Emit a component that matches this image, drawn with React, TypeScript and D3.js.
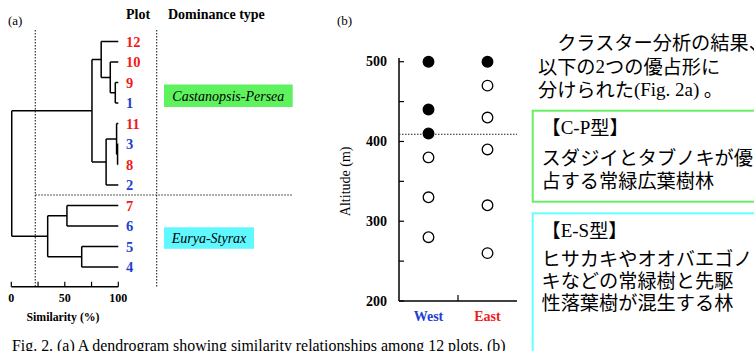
import React from "react";
import * as d3 from "d3";

// ---------- Data ----------
const leafOrder = ["12", "10", "9", "1", "11", "3", "8", "2", "7", "6", "5", "4"];
const westPlots = ["1", "2", "3", "4", "5", "6"];
// dendrogram: nested merges with similarity (%)
type Node = { name?: string; sim?: number; children?: Node[] };
const dendro: Node = {
  sim: 0.4,
  children: [
    {
      sim: 75.4,
      children: [
        { sim: 84, children: [{ name: "12" }, { sim: 92.5, children: [{ name: "10" }, { sim: 97.2, children: [{ name: "9" }, { name: "1" }] }] }] },
        { sim: 88.6, children: [{ sim: 98.4, children: [{ name: "11" }, { sim: 99.3, children: [{ name: "3" }, { name: "8" }] }] }, { name: "2" }] },
      ],
    },
    {
      sim: 34,
      children: [
        { sim: 52, children: [{ name: "7" }, { name: "6" }] },
        { sim: 65.8, children: [{ name: "5" }, { name: "4" }] },
      ],
    },
  ],
};
const simTicks = [0, 25, 50, 75, 100];
const simLabels = [0, 50, 100];
const cutSim = 22.4;

const sides = ["West", "East"];
const westFilled = [500, 440, 410];
const westOpen = [380, 330, 280];
const eastFilled = [500];
const eastOpen = [470, 430, 390, 320, 260];
const altTicks = [200, 250, 300, 350, 400, 450, 500];
const altLabels = [200, 300, 400, 500];
const altCut = 409;

// text segments: [text, isLatin]
type Seg = [string, boolean];
const introLines: Seg[][] = [
  [["　クラスター分析の結果、", false]],
  [["以下の", false], ["2", true], ["つの優占形に", false]],
  [["分けられた", false], ["(Fig. 2a)", true], [" 。", false]],
];
const cpLines: Seg[][] = [
  [["【", false], ["C-P", true], ["型】", false]],
  [["スダジイとタブノキが優", false]],
  [["占する常緑広葉樹林", false]],
];
const esLines: Seg[][] = [
  [["【", false], ["E-S", true], ["型】", false]],
  [["ヒサカキやオオバエゴノ", false]],
  [["キなどの常緑樹と先駆", false]],
  [["性落葉樹が混生する林", false]],
];

const RED = "#f01c1c";
const BLUE = "#1f3fd0";
const SERIF = "'Liberation Serif', 'Times New Roman', serif";
const JP = "'Noto Sans CJK JP', sans-serif";

function JLine({ segs, x, y }: { segs: Seg[]; x: number; y: number }) {
  return (
    <text x={x} y={y} fontSize={19.2} fontFamily={JP} dominantBaseline="central">
      {segs.map(([t, latin], i) => (
        <tspan key={i} fontFamily={latin ? SERIF : JP} fontSize={latin ? 19 : 19.2}>{t}</tspan>
      ))}
    </text>
  );
}

export default function App() {
  // ---------- Dendrogram ----------
  const xs = d3.scaleLinear().domain([0, 100]).range([11.3, 118.3]);
  const ys = d3.scalePoint<string>().domain(leafOrder).range([41.5, 267]);
  const root = d3.hierarchy<Node>(dendro);
  const yOf = new Map<any, number>();
  root.eachAfter((n) => {
    if (!n.children) yOf.set(n, ys(n.data.name!)!);
    else yOf.set(n, d3.mean(n.children, (c) => yOf.get(c)!)!);
  });
  const xOf = (n: d3.HierarchyNode<Node>) => (n.children ? xs(n.data.sim!) : xs(100));
  const segs: string[] = [];
  root.each((n) => {
    if (n.children) {
      const x = xOf(n);
      const ysC = n.children.map((c) => yOf.get(c)!);
      const path = d3.path();
      path.moveTo(x, d3.min(ysC)!);
      path.lineTo(x, d3.max(ysC)!);
      n.children.forEach((c) => {
        path.moveTo(x, yOf.get(c)!);
        path.lineTo(xOf(c), yOf.get(c)!);
      });
      segs.push(path.toString());
    }
  });
  const axisY = 286.7;

  // ---------- Altitude plot ----------
  const yAlt = d3.scaleLinear().domain([200, 500]).range([301, 61.7]);
  const xSide = d3.scalePoint<string>().domain(sides).range([399, 517]).padding(0.5);
  const pts = [
    ...westFilled.map((v) => ({ s: "West", v, f: true })),
    ...westOpen.map((v) => ({ s: "West", v, f: false })),
    ...eastFilled.map((v) => ({ s: "East", v, f: true })),
    ...eastOpen.map((v) => ({ s: "East", v, f: false })),
  ];

  return (
    <svg width={754} height={351} style={{ position: "absolute", left: 0, top: 0, background: "#fff" }} fontFamily={SERIF}>
      <rect width={754} height={351} fill="#fff" />
      {/* Panel a */}
      <text x={8} y={20} fontSize={13} dominantBaseline="central">(a)</text>
      <text x={126} y={14} fontSize={14} fontWeight="bold" dominantBaseline="central">Plot</text>
      <text x={168} y={14} fontSize={14} fontWeight="bold" dominantBaseline="central">Dominance type</text>
      {segs.map((d, i) => (
        <path key={i} d={d} fill="none" stroke="#000" strokeWidth={1.5} />
      ))}
      {leafOrder.map((l) => (
        <text key={l} x={126} y={ys(l)} fontSize={14.5} fontWeight="bold" dominantBaseline="central"
          fill={westPlots.includes(l) ? BLUE : RED}>{l}</text>
      ))}
      {/* dotted lines */}
      <line x1={xs(cutSim)} x2={xs(cutSim)} y1={30} y2={axisY} stroke="#222" strokeWidth={1.1} strokeDasharray="1.5,1.5" />
      <line x1={156.7} x2={156.7} y1={30} y2={axisY} stroke="#222" strokeWidth={1.1} strokeDasharray="1.5,1.5" />
      <line x1={xs(cutSim)} x2={293} y1={195} y2={195} stroke="#222" strokeWidth={1.1} strokeDasharray="1.5,1.5" />
      {/* type boxes */}
      <rect x={164} y={84.5} width={128.7} height={22.5} fill="#5ff25f" />
      <text x={228.3} y={96} fontSize={14} fontStyle="italic" textAnchor="middle" dominantBaseline="central">Castanopsis-Persea</text>
      <rect x={164} y={227.3} width={90} height={21.5} fill="#5ff8ff" />
      <text x={209} y={238.3} fontSize={14} fontStyle="italic" textAnchor="middle" dominantBaseline="central">Eurya-Styrax</text>
      {/* similarity axis */}
      <line x1={xs(0)} x2={xs(100)} y1={axisY} y2={axisY} stroke="#000" strokeWidth={1.5} />
      {simTicks.map((t) => (
        <line key={t} x1={xs(t)} x2={xs(t)} y1={axisY} y2={axisY - 5} stroke="#000" strokeWidth={1.2} />
      ))}
      {simLabels.map((t) => (
        <text key={t} x={xs(t)} y={298} fontSize={12} fontWeight="bold" textAnchor="middle" dominantBaseline="central">{t}</text>
      ))}
      <text x={63} y={316.5} fontSize={11.8} fontWeight="bold" textAnchor="middle" dominantBaseline="central">Similarity (%)</text>

      {/* Panel b */}
      <text x={337} y={20} fontSize={13} dominantBaseline="central">(b)</text>
      <line x1={399} x2={399} y1={58} y2={301} stroke="#000" strokeWidth={1.5} />
      <line x1={399} x2={517} y1={301} y2={301} stroke="#000" strokeWidth={1.5} />
      {altTicks.map((t) => (
        <line key={t} x1={399} x2={404} y1={yAlt(t)} y2={yAlt(t)} stroke="#000" strokeWidth={1.2} />
      ))}
      {altLabels.map((t) => (
        <text key={t} x={387} y={yAlt(t)} fontSize={14} fontWeight="bold" textAnchor="end" dominantBaseline="central">{t}</text>
      ))}
      <line x1={458} x2={458} y1={301} y2={295} stroke="#000" strokeWidth={1.2} />
      <text transform={`translate(345,${(61.7 + 301) / 2}) rotate(-90)`} fontSize={14} textAnchor="middle" dominantBaseline="central">Altitude (m)</text>
      <line x1={399} x2={517} y1={yAlt(altCut)} y2={yAlt(altCut)} stroke="#222" strokeWidth={1.1} strokeDasharray="1.5,1.5" />
      {pts.map((p, i) => (
        <circle key={i} cx={xSide(p.s)} cy={yAlt(p.v)} r={5.3} fill={p.f ? "#000" : "#fff"} stroke="#000" strokeWidth={1.3} />
      ))}
      {sides.map((s) => (
        <text key={s} x={xSide(s)} y={316} fontSize={14} fontWeight="bold" textAnchor="middle" dominantBaseline="central"
          fill={s === "West" ? BLUE : RED}>{s}</text>
      ))}

      {/* Caption */}
      <text x={12} y={351} fontSize={15.9}>Fig. 2. (a) A dendrogram showing similarity relationships among 12 plots. (b)</text>

      {/* Right text */}
      {introLines.map((l, i) => (
        <JLine key={i} segs={l} x={538} y={42 + i * 23.5} />
      ))}
      <rect x={532.7} y={110.7} width={260} height={91} fill="none" stroke="#66ee66" strokeWidth={2} />
      {cpLines.map((l, i) => (
        <JLine key={i} segs={l} x={541.5} y={i === 0 ? 126.7 : 133.3 + i * 23.4} />
      ))}
      <rect x={532.7} y={213.3} width={260} height={200} fill="none" stroke="#66ffff" strokeWidth={2} />
      {esLines.map((l, i) => (
        <JLine key={i} segs={l} x={541.5} y={i === 0 ? 230 : 236 + i * 22} />
      ))}
    </svg>
  );
}
